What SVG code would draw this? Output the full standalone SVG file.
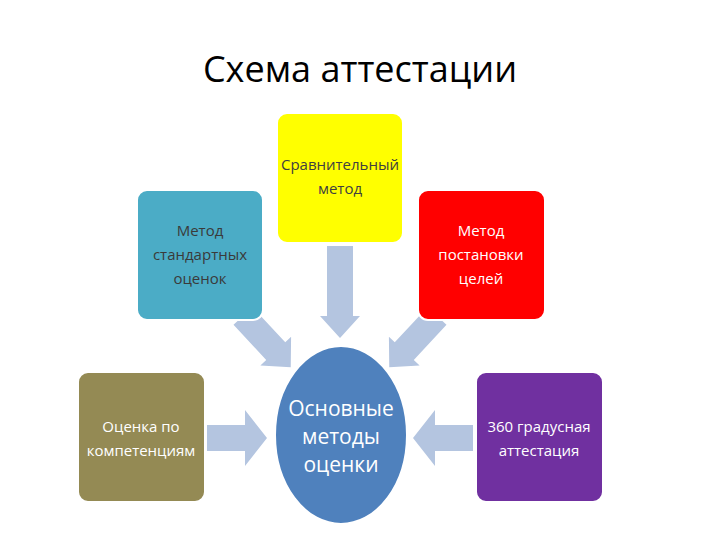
<svg xmlns="http://www.w3.org/2000/svg" width="720" height="540" viewBox="0 0 720 540">
<style>
.box{stroke:#fff;stroke-width:2}
.t{font-family:"Open Sans","Liberation Sans",sans-serif;font-size:15px;fill:#fff;text-anchor:middle}
.arr{fill:#B4C5E0}
</style>
<rect width="720" height="540" fill="#fff"/>
<text x="360" y="82" font-family="Open Sans,Liberation Sans,sans-serif" font-size="36" text-anchor="middle" fill="#000">Схема аттестации</text>
<g id="connectors">
<path class="arr" transform="translate(340,246) rotate(90)" d="M0,-13 L70,-13 L70,-20 L92,0 L70,20 L70,13 L0,13 Z"/>
<path class="arr" transform="translate(243,316) rotate(47)" d="M0,-13 L48,-13 L48,-21 L70,0 L48,21 L48,13 L0,13 Z"/>
<path class="arr" transform="translate(437,316) rotate(133)" d="M0,-13 L48,-13 L48,-21 L70,0 L48,21 L48,13 L0,13 Z"/>
<path class="arr" transform="translate(207,438)" d="M0,-13 L38,-13 L38,-28 L60,0 L38,28 L38,13 L0,13 Z"/>
<path class="arr" transform="translate(473,438) rotate(180)" d="M0,-13 L38,-13 L38,-28 L60,0 L38,28 L38,13 L0,13 Z"/>
</g>
<g id="yellow"><rect class="box" x="277" y="113" width="126" height="130" rx="10" fill="#FFFF00"/>
<text class="t" x="340" y="170" fill="#404040" style="fill:#404040">Сравнительный</text><text class="t" x="340" y="194" style="fill:#404040">метод</text></g>
<g id="teal"><rect class="box" x="137" y="190" width="126" height="130" rx="10" fill="#4BACC6"/>
<text class="t" x="200" y="236" style="fill:#3a3a3a">Метод</text><text class="t" x="200" y="260" style="fill:#3a3a3a">стандартных</text><text class="t" x="200" y="284" style="fill:#3a3a3a">оценок</text></g>
<g id="red"><rect class="box" x="418" y="190" width="127" height="130" rx="10" fill="#FF0000"/>
<text class="t" x="481" y="236">Метод</text><text class="t" x="481" y="260">постановки</text><text class="t" x="481" y="284">целей</text></g>
<g id="olive"><rect class="box" x="78" y="372" width="127" height="130" rx="10" fill="#948A54"/>
<text class="t" x="141" y="432">Оценка по</text><text class="t" x="141" y="456">компетенциям</text></g>
<g id="purple"><rect class="box" x="476" y="372" width="127" height="130" rx="10" fill="#7030A0"/>
<text class="t" x="539" y="432">360 градусная</text><text class="t" x="539" y="456">аттестация</text></g>
<g id="center"><ellipse cx="341" cy="435" rx="66" ry="89" fill="#4F81BD" class="box"/>
<text class="t" x="341" y="416" style="font-size:21px">Основные</text><text class="t" x="341" y="444" style="font-size:21px">методы</text><text class="t" x="341" y="472" style="font-size:21px">оценки</text></g>
</svg>
